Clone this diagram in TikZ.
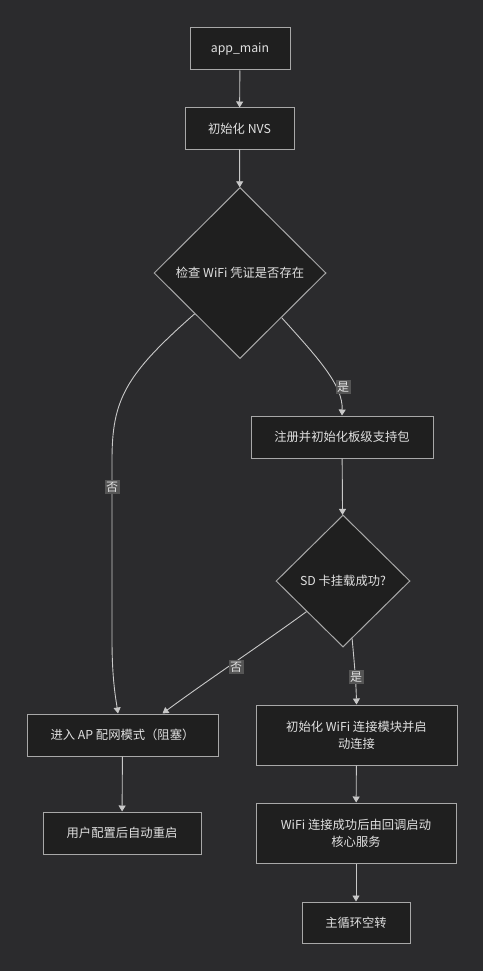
\documentclass[tikz,border=0pt]{standalone}
\usepackage{fontspec}
\setmainfont{Noto Sans CJK SC}
\usetikzlibrary{shapes.geometric,arrows.meta,calc}
\definecolor{bgc}{HTML}{2B2B2D}
\definecolor{nodefill}{HTML}{1F1F1F}
\definecolor{nodeborder}{HTML}{A8A8A8}
\definecolor{txtc}{HTML}{E0E0E0}
\definecolor{linec}{HTML}{C8C8C8}
\definecolor{lblfill}{HTML}{555555}
\begin{document}
\begin{tikzpicture}[x=1pt,y=-1pt,
  font=\fontsize{12.3}{17}\selectfont,
  box/.style={draw=nodeborder,fill=nodefill,text=txtc,line width=1pt,inner sep=0pt,align=center},
  dia/.style={diamond,draw=nodeborder,fill=nodefill,text=txtc,line width=1pt,inner sep=0pt,align=center},
  conn/.style={draw=linec,line width=0.9pt,-{Triangle[width=7pt,length=6pt]}},
  lbl/.style={fill=lblfill,text=txtc,inner sep=1.5pt,font=\fontsize{12}{14}\selectfont}]
\fill[bgc] (0,0) rectangle (483,971);
\useasboundingbox (0,0) rectangle (483,971);

\node[box,minimum width=100pt,minimum height=42pt] (app) at (240,49) {app\_main};
\node[box,minimum width=109pt,minimum height=41pt] (nvs) at (239.5,128.5) {初始化 NVS};
\node[dia,minimum width=172pt,minimum height=171pt] (d1) at (240,273) {检查 WiFi 凭证是否存在};
\node[box,minimum width=182pt,minimum height=42pt] (reg) at (342,437) {注册并初始化板级支持包};
\node[dia,minimum width=134pt,minimum height=132pt] (d2) at (343,581) {SD 卡挂载成功?};
\node[box,minimum width=191pt,minimum height=42pt] (ap) at (122.5,735) {进入 AP 配网模式（阻塞）};
\node[box,minimum width=201pt,minimum height=60pt] (wifi) at (356.5,735) {初始化 WiFi 连接模块并启\\动连接};
\node[box,minimum width=158pt,minimum height=42pt] (usr) at (122,833) {用户配置后自动重启};
\node[box,minimum width=200pt,minimum height=60pt] (core) at (356,833) {WiFi 连接成功后由回调启动\\核心服务};
\node[box,minimum width=108pt,minimum height=41pt] (loop) at (356,922.5) {主循环空转};

\draw[conn] (app) -- (nvs);
\draw[conn] (nvs) -- (d1);
\draw[conn] (d1.313) .. controls (318,358) and (343,385) .. (reg.north);
\node[lbl] (l1) at (343,387) {是};
\draw[conn] (d1.222) .. controls (125,375) and (112,400) .. (112,460) -- (112,640) .. controls (112,680) and (116,700) .. ([xshift=-4.5pt]ap.north);
\node[lbl] (l2) at (112,487) {否};
\draw[conn] (reg) -- (d2);
\draw[conn] (d2.220) .. controls (265,642) and (205,682) .. ([xshift=40pt]ap.north);
\node[lbl] (l3) at (236,667) {否};
\draw[conn] (d2.279) .. controls (354,660) and (356,680) .. (wifi.north);
\node[lbl] (l4) at (356,677) {是};
\draw[conn] (ap) -- (usr);
\draw[conn] (wifi) -- (core);
\draw[conn] (core) -- (loop);
\end{tikzpicture}
\end{document}
